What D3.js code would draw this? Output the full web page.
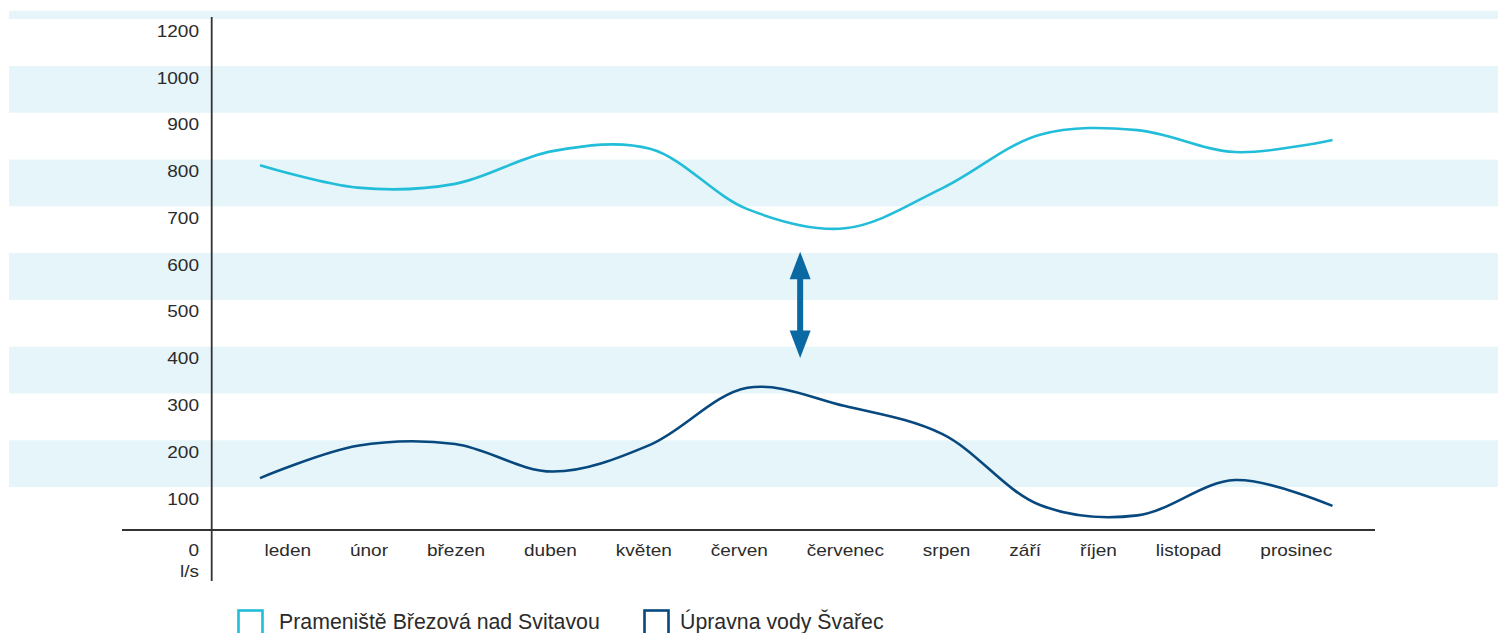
<!DOCTYPE html>
<html>
<head>
<meta charset="utf-8">
<script src="https://cdn.jsdelivr.net/npm/d3@7"></script>
<style>
  html, body { margin: 0; padding: 0; background: #fff; }
  svg { display: block; font-family: "Liberation Sans", Arial, Helvetica, sans-serif; }
</style>
</head>
<body>
<svg id="chart" width="1498" height="633"></svg>
<script>
// ---- data ----
const months = ["leden", "únor", "březen", "duben", "květen", "červen",
                "červenec", "srpen", "září", "říjen", "listopad", "prosinec"];
const seriesNames = ["Prameniště Březová nad Svitavou", "Úpravna vody Švařec"];
const brezovaValues = [788, 740, 748, 818, 823, 694, 653, 739, 853, 863, 816, 842];
const svarecValues  = [119, 188, 192, 133, 190, 312, 273, 213, 58, 34, 115, 56];
const yTickValues = [0, 100, 200, 300, 400, 500, 600, 700, 800, 900, 1000, 1200];
const yUnit = "l/s";
const bandRanges = [[100, 200], [300, 400], [500, 600], [700, 800], [900, 1000], [1200, 1235]];
const arrowFromTo = [376, 603];          // annotation arrow (values)
const arrowBetween = ["červen", "červenec"];

// ---- styles ----
const cCyan = "#22bdd8";
const cNavy = "#07487f";
const cBand = "#e6f5f9";
const cAxis = "#333333";
const cText = "#2b2b2b";
const cArrow = "#0a69a3";
const stretch = 1.12;

const svg = d3.select("#chart");

const x = d3.scalePoint().domain(months).range([260, 1332.5]);
const y = d3.scaleLinear().domain([0, 100, 1000, 1200]).range([530, 487, 66, 19]);

// bands
svg.append("g").selectAll("rect").data(bandRanges).join("rect")
  .attr("x", 9).attr("width", 1498 - 9)
  .attr("y", d => y(d[1])).attr("height", d => y(d[0]) - y(d[1]))
  .attr("fill", cBand);

// axes lines
svg.append("line").attr("x1", 122).attr("x2", 1375).attr("y1", y(0)).attr("y2", y(0))
  .attr("stroke", cAxis).attr("stroke-width", 1.8);
svg.append("line").attr("x1", 211.7).attr("x2", 211.7).attr("y1", 17).attr("y2", 581)
  .attr("stroke", cAxis).attr("stroke-width", 1.8);

// y tick labels
const yl = svg.append("g").attr("font-size", 17).attr("fill", cText).attr("text-anchor", "end");
yTickValues.forEach(v => {
  const by = v === 0 ? y(0) + 25.7 : y(v) + 17.5;
  yl.append("text").attr("transform", `translate(199,${by}) scale(${stretch},1)`).text(v);
});
yl.append("text").attr("transform", `translate(199,${y(0) + 46.7}) scale(${stretch},1)`).text(yUnit);

// month labels (flowing row)
const ml = svg.append("g").attr("font-size", 17).attr("fill", cText);
let cx = 264.5;
months.forEach(m => {
  const t = ml.append("text").attr("transform", `translate(${cx},${y(0) + 25.7}) scale(${stretch},1)`).text(m);
  cx += t.node().getComputedTextLength() * stretch + 38.9;
});

// lines
const line = d3.line().x((d, i) => x(months[i])).y(d => y(d)).curve(d3.curveCatmullRom.alpha(0.5));
svg.append("path").datum(brezovaValues).attr("d", line)
  .attr("fill", "none").attr("stroke", cCyan).attr("stroke-width", 2.6);
svg.append("path").datum(svarecValues).attr("d", line)
  .attr("fill", "none").attr("stroke", cNavy).attr("stroke-width", 2.6);

// arrow annotation
const ax = x(arrowBetween[0]) + 0.54 * (x(arrowBetween[1]) - x(arrowBetween[0]));
const yTop = y(arrowFromTo[1]), yBot = y(arrowFromTo[0]);
const headH = 27.5, headW = 10.5, shaftW = 3;
const p = d3.path();
p.moveTo(ax, yTop);
p.lineTo(ax + headW, yTop + headH);
p.lineTo(ax + shaftW, yTop + headH);
p.lineTo(ax + shaftW, yBot - headH);
p.lineTo(ax + headW, yBot - headH);
p.lineTo(ax, yBot);
p.lineTo(ax - headW, yBot - headH);
p.lineTo(ax - shaftW, yBot - headH);
p.lineTo(ax - shaftW, yTop + headH);
p.lineTo(ax - headW, yTop + headH);
p.closePath();
svg.append("path").attr("d", p.toString()).attr("fill", cArrow);

// legend
const legend = [
  { name: seriesNames[0], color: cCyan, rx: 238.5, tx: 279 },
  { name: seriesNames[1], color: cNavy, rx: 644.5, tx: 680 }
];
legend.forEach(l => {
  svg.append("rect").attr("x", l.rx).attr("y", 610.5).attr("width", 24).attr("height", 30)
    .attr("fill", "none").attr("stroke", l.color).attr("stroke-width", 2.6);
  svg.append("text").attr("x", l.tx).attr("y", 629.3).attr("font-size", 21.3)
    .attr("fill", cText).text(l.name);
});
</script>
</body>
</html>
